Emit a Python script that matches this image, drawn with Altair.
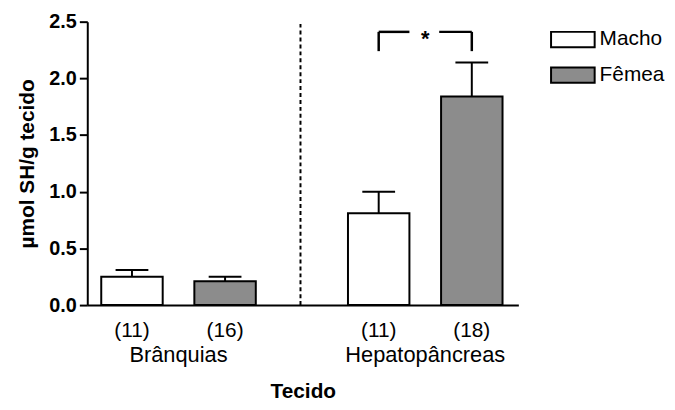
import altair as alt
import pandas as pd

# ---- data ----
tissues = ["Brânquias", "Brânquias", "Hepatopâncreas", "Hepatopâncreas"]
sexes = ["Macho", "Fêmea", "Macho", "Fêmea"]
means = [0.25, 0.21, 0.81, 1.84]
uppers = [0.31, 0.25, 1.00, 2.14]
n_labels = ["(11)", "(16)", "(11)", "(18)"]
positions = [1.0, 2.0, 3.65, 4.65]

group_names = ["Brânquias", "Hepatopâncreas"]
group_positions = [1.5, 4.15]

divider_position = [2.81]
divider_top = [2.48]

# significance bracket between the two Hepatopâncreas bars
bracket_left = [3.65]
bracket_right = [4.65]
bracket_low = [2.24]
bracket_high = [2.41]
bracket_gap = [3.98, 4.30]
sig_text = ["*"]
sig_position = [4.15]
sig_y = [2.35]

sex_domain = ["Macho", "Fêmea"]
sex_colors = ["#ffffff", "#8c8c8c"]

FONT = "Liberation Sans"
BAR_HALF = 0.33
CAP_HALF = 0.176

bars = pd.DataFrame({
    "tissue": tissues, "sex": sexes, "mean": means, "upper": uppers,
    "n": n_labels, "pos": positions,
})
bars["x0"] = bars["pos"] - BAR_HALF
bars["x1"] = bars["pos"] + BAR_HALF
bars["c0"] = bars["pos"] - CAP_HALF
bars["c1"] = bars["pos"] + CAP_HALF
bars["zero"] = 0.0

groups = pd.DataFrame({"name": group_names, "pos": group_positions})
divider = pd.DataFrame({"pos": divider_position, "top": divider_top, "bottom": [0.0]})

legs = pd.DataFrame({
    "pos": bracket_left + bracket_right,
    "lo": bracket_low * 2,
    "hi": bracket_high * 2,
})
tops = pd.DataFrame({
    "a": [bracket_left[0], bracket_gap[1]],
    "b": [bracket_gap[0], bracket_right[0]],
    "y": bracket_high * 2,
})
star = pd.DataFrame({"t": sig_text, "pos": sig_position, "y": sig_y})

xscale = alt.Scale(domain=[0.52, 5.15], nice=False, zero=False)
yscale = alt.Scale(domain=[0, 2.5], nice=False)

base = alt.Chart(bars)

bar_layer = base.mark_bar(stroke="black", strokeWidth=2).encode(
    x=alt.X("x0:Q", scale=xscale,
            axis=alt.Axis(title="Tecido", labels=False, ticks=False, grid=False,
                          domainColor="black", domainWidth=2,
                          titleFont=FONT, titleFontSize=21, titleFontWeight="bold",
                          titleColor="black", titlePadding=76)),
    x2="x1:Q",
    y=alt.Y("mean:Q", scale=yscale,
            axis=alt.Axis(title="µmol SH/g tecido", values=[0, 0.5, 1.0, 1.5, 2.0, 2.5],
                          format=".1f", grid=False, domainColor="black", domainWidth=2,
                          tickColor="black", tickWidth=2, tickSize=8,
                          labelFont=FONT, labelFontSize=20, labelFontWeight="bold",
                          labelColor="black", labelPadding=3,
                          titleFont=FONT, titleFontSize=21, titleFontWeight="bold",
                          titleColor="black", titlePadding=11)),
    y2="zero:Q",
    fill=alt.Fill("sex:N", scale=alt.Scale(domain=sex_domain, range=sex_colors),
                  legend=alt.Legend(title=None, orient="none", legendX=478, legendY=6,
                                    symbolType="M-2,-0.7H2V0.7H-2Z", symbolSize=484,
                                    symbolStrokeColor="black", symbolStrokeWidth=2,
                                    symbolOpacity=1, labelFont=FONT, labelFontSize=21,
                                    labelColor="black", labelOffset=15, rowPadding=12,
                                    padding=0)),
)

stems = base.mark_rule(color="black", strokeWidth=2).encode(
    x="pos:Q", y="mean:Q", y2="upper:Q")
caps = base.mark_rule(color="black", strokeWidth=2).encode(
    x="c0:Q", x2="c1:Q", y="upper:Q")

n_text = base.mark_text(font=FONT, fontSize=21, color="black", baseline="middle").encode(
    x="pos:Q", y=alt.value(312), text="n:N")

group_text = alt.Chart(groups).mark_text(font=FONT, fontSize=22, color="black",
                                         baseline="middle").encode(
    x="pos:Q", y=alt.value(336), text="name:N")

div_layer = alt.Chart(divider).mark_rule(color="black", strokeWidth=2,
                                         strokeDash=[4, 3]).encode(
    x="pos:Q", y="bottom:Q", y2="top:Q")

leg_layer = alt.Chart(legs).mark_rule(color="black", strokeWidth=2.5).encode(
    x="pos:Q", y="lo:Q", y2="hi:Q")
top_layer = alt.Chart(tops).mark_rule(color="black", strokeWidth=2.5).encode(
    x="a:Q", x2="b:Q", y="y:Q")
star_layer = alt.Chart(star).mark_text(font=FONT, fontSize=22, fontWeight="bold",
                                       color="black", baseline="middle").encode(
    x="pos:Q", y="y:Q", text="t:N")

chart = alt.layer(
    bar_layer, stems, caps, div_layer, leg_layer, top_layer, star_layer,
    n_text, group_text,
).properties(
    width=435, height=286,
    autosize=alt.AutoSizeParams(type="none"),
    padding={"left": 80, "top": 12, "right": 150, "bottom": 96},
).configure_view(stroke=None)

chart.save("out.html", embed_options={"renderer": "svg", "actions": False})
